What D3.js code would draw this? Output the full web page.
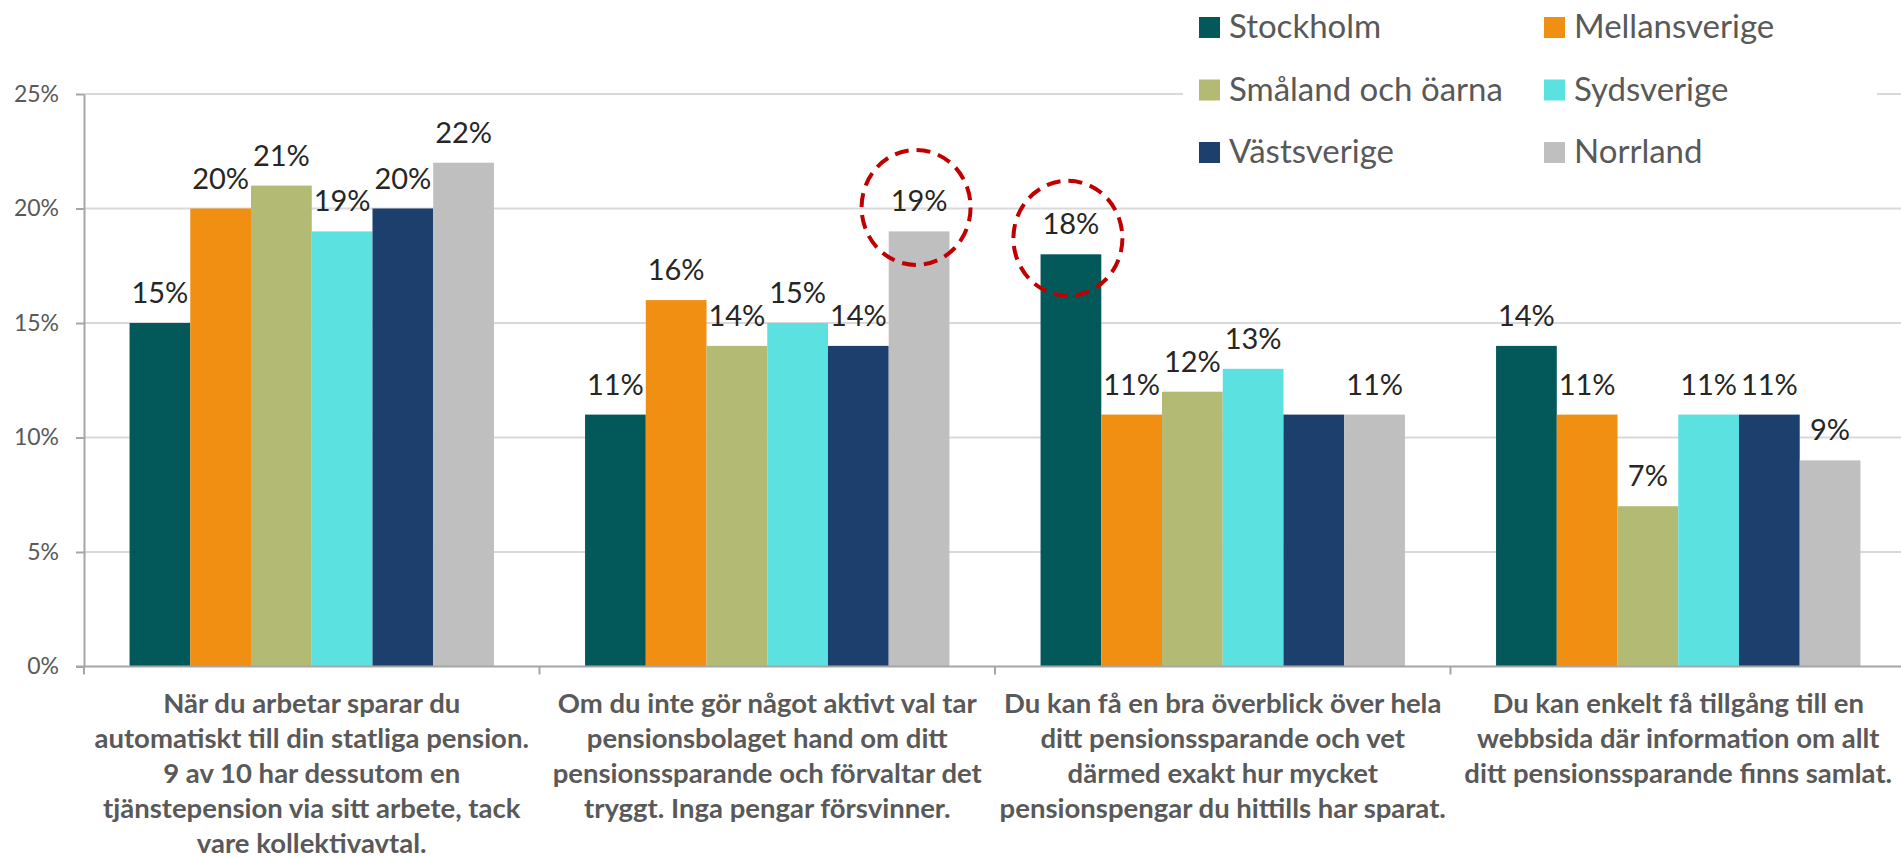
<!DOCTYPE html>
<html>
<head>
<meta charset="utf-8">
<script src="https://cdn.jsdelivr.net/npm/d3@7"></script>
<style>
    html, body { margin: 0; padding: 0; background: #fff; }
    svg { display: block; font-family: Lato, "Open Sans", sans-serif; }
</style>
</head>
<body>
<svg id="chart" width="1901" height="858"></svg>
<script>
var categories = [
        "När du arbetar sparar du\nautomatiskt till din statliga pension.\n9 av 10 har dessutom en\ntjänstepension via sitt arbete, tack\nvare kollektivavtal.",
        "Om du inte gör något aktivt val tar\npensionsbolaget hand om ditt\npensionssparande och förvaltar det\ntryggt. Inga pengar försvinner.",
        "Du kan få en bra överblick över hela\nditt pensionssparande och vet\ndärmed exakt hur mycket\npensionspengar du hittills har sparat.",
        "Du kan enkelt få tillgång till en\nwebbsida där information om allt\nditt pensionssparande finns samlat."
    ],
    seriesNames = ["Stockholm", "Mellansverige", "Småland och öarna", "Sydsverige", "Västsverige", "Norrland"],
    stockholm = [15, 11, 18, 14],
    mellansverige = [20, 16, 11, 11],
    smaland = [21, 14, 12, 7],
    sydsverige = [19, 15, 13, 11],
    vastsverige = [20, 14, 11, 11],
    norrland = [22, 19, 11, 9],
    yTicks = [0, 5, 10, 15, 20, 25],
    // the original leaves this one bar without a label
    hiddenLabels = [{ category: 2, series: "Västsverige" }],
    // dashed rings drawn round two of the labels
    highlights = [
        { category: 1, series: "Norrland", dy: 6 },
        { category: 2, series: "Stockholm", dy: 14 }
    ];

var seriesValues = [stockholm, mellansverige, smaland, sydsverige, vastsverige, norrland],
    colors = ["#03595a", "#f08f11", "#b2ba74", "#5ce1e1", "#1c3f6e", "#bfbfbf"],
    textGray = "#595959";

var svg = d3.select("#chart"),
    plotLeft = 84,
    plotRight = 1906,
    plotTop = 94,
    plotBottom = 666.5,
    x0 = d3.scaleBand()
        .domain(d3.range(categories.length))
        .range([plotLeft, plotRight]),
    x1 = d3.scaleBand()
        .domain(seriesNames)
        .range([0, x0.bandwidth()])
        .paddingInner(0)
        .paddingOuter(0.75),
    y = d3.scaleLinear()
        .domain([0, 25])
        .range([plotBottom, plotTop]),
    color = d3.scaleOrdinal()
        .domain(seriesNames)
        .range(colors);

function getValue(ci, name) {
    return seriesValues[seriesNames.indexOf(name)][ci];
}

function rowData(ci) {
    return seriesNames.map(function (name) {
        return {
            name: name,
            value: getValue(ci, name),
            hidden: hiddenLabels.some(function (h) { return h.category === ci && h.series === name; })
        };
    });
}

//gridlines
svg.append("g")
    .selectAll("line")
    .data(yTicks.filter(function (d) { return d > 0; }))
    .enter().append("line")
    .attr("x1", plotLeft)
    .attr("x2", plotRight)
    .attr("y1", function (d) { return y(d); })
    .attr("y2", function (d) { return y(d); })
    .attr("stroke", "#d9d9d9")
    .attr("stroke-width", 2);

//y axis
var yAxis = svg.append("g")
    .attr("transform", "translate(" + plotLeft + ",0)")
    .call(d3.axisLeft(y)
        .tickValues(yTicks)
        .tickSize(8)
        .tickSizeOuter(0)
        .tickPadding(17)
        .tickFormat(function (d) { return d + "%"; }));

yAxis.select(".domain").attr("stroke", "#a6a6a6").attr("stroke-width", 2);
yAxis.selectAll(".tick line").attr("stroke", "#a6a6a6").attr("stroke-width", 2);
yAxis.selectAll(".tick text")
    .attr("fill", textGray)
    .style("font-size", "23px")
    .style("font-family", "Lato, 'Open Sans', sans-serif");

//bars
var groups = svg.append("g")
    .selectAll("g")
    .data(categories)
    .enter().append("g")
    .attr("transform", function (d, i) { return "translate(" + x0(i) + ",0)"; });

groups.selectAll("rect")
    .data(function (d, i) { return rowData(i); })
    .enter().append("rect")
    .attr("x", function (d) { return x1(d.name); })
    .attr("y", function (d) { return y(d.value); })
    .attr("width", x1.bandwidth())
    .attr("height", function (d) { return y(0) - y(d.value); })
    .attr("fill", function (d) { return color(d.name); });

groups.selectAll("text.value")
    .data(function (d, i) { return rowData(i).filter(function (r) { return !r.hidden; }); })
    .enter().append("text")
    .attr("class", "value")
    .attr("x", function (d) { return x1(d.name) + x1.bandwidth() / 2; })
    .attr("y", function (d) { return y(d.value) - 20; })
    .attr("text-anchor", "middle")
    .attr("fill", "#262626")
    .style("font-size", "29px")
    .text(function (d) { return d.value + "%"; });

//x axis line and category separators
svg.append("line")
    .attr("x1", plotLeft - 8)
    .attr("x2", plotRight)
    .attr("y1", y(0))
    .attr("y2", y(0))
    .attr("stroke", "#a6a6a6")
    .attr("stroke-width", 2);

svg.append("g")
    .selectAll("line")
    .data(d3.range(categories.length + 1))
    .enter().append("line")
    .attr("x1", function (i) { return plotLeft + i * x0.step(); })
    .attr("x2", function (i) { return plotLeft + i * x0.step(); })
    .attr("y1", y(0))
    .attr("y2", y(0) + 8)
    .attr("stroke", "#a6a6a6")
    .attr("stroke-width", 2);

//category labels
svg.append("g")
    .selectAll("text")
    .data(categories)
    .enter().append("text")
    .attr("text-anchor", "middle")
    .attr("fill", textGray)
    .style("font-size", "27.5px")
    .style("font-weight", "bold")
    .each(function (d, i) {
        var t = d3.select(this),
            cx = x0(i) + x0.bandwidth() / 2;
        d.split("\n").forEach(function (line, k) {
            t.append("tspan")
                .attr("x", cx)
                .attr("y", 713 + k * 35)
                .text(line);
        });
    });

//highlight rings
svg.append("g")
    .selectAll("ellipse")
    .data(highlights)
    .enter().append("ellipse")
    .attr("cx", function (d) { return x0(d.category) + x1(d.series) + x1.bandwidth() / 2 - 3; })
    .attr("cy", function (d) { return y(getValue(d.category, d.series)) - 30 + d.dy; })
    .attr("rx", 54.5)
    .attr("ry", 57.5)
    .attr("fill", "none")
    .attr("stroke", "#c00000")
    .attr("stroke-width", 4)
    .attr("stroke-dasharray", "14 8");

//legend
var legend = svg.append("g");

legend.append("rect")
    .attr("x", 1183)
    .attr("y", 0)
    .attr("width", 694)
    .attr("height", 180)
    .attr("fill", "#fff");

var items = legend.selectAll("g")
    .data(seriesNames)
    .enter().append("g")
    .attr("transform", function (d, i) {
        return "translate(" + (1199 + (i % 2) * 345) + "," + (17 + Math.floor(i / 2) * 62.5) + ")";
    });

items.append("rect")
    .attr("width", 21)
    .attr("height", 21)
    .attr("fill", function (d) { return color(d); });

items.append("text")
    .attr("x", 30)
    .attr("y", 21)
    .attr("fill", textGray)
    .style("font-size", "33px")
    .text(function (d) { return d; });
</script>
</body>
</html>
